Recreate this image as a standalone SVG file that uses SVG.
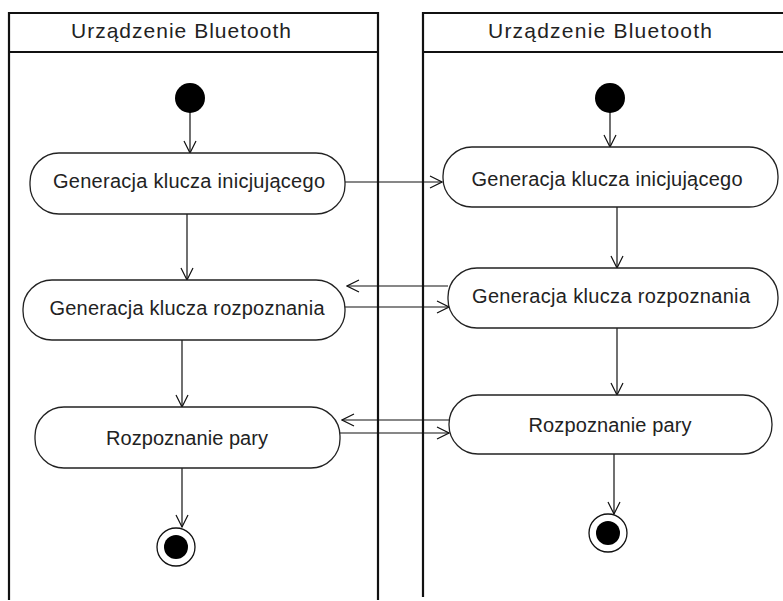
<svg xmlns="http://www.w3.org/2000/svg" width="783" height="601" viewBox="0 0 783 601">
<defs>
<style>
.lane{fill:none;stroke:#111;stroke-width:2.2}
.act{fill:#fff;stroke:#222;stroke-width:1.3}
.t{font-family:"Liberation Sans",Arial,sans-serif;font-size:20px;fill:#222;text-anchor:middle}
.h{font-size:21px}
.c{fill:none;stroke:#111;stroke-width:1.2;marker-end:url(#arr)}
</style>
<marker id="arr" markerUnits="userSpaceOnUse" markerWidth="14" markerHeight="14" viewBox="0 0 14 14" refX="13" refY="7" orient="auto">
<path d="M1,1 L13,7 L1,13" fill="none" stroke="#111" stroke-width="1.2"/>
</marker>
</defs>
<rect width="783" height="601" fill="#fff"/>
<g id="lane-left">
<path class="lane" d="M9,600 V13 H378 V600 M9,52 H378"/>
<text class="t h" x="181" y="38" textLength="220" lengthAdjust="spacing">Urządzenie Bluetooth</text>
</g>
<g id="lane-right">
<path class="lane" d="M423,597 V13 H783 M423,52 H783"/>
<text class="t h" x="600" y="38" textLength="224" lengthAdjust="spacing">Urządzenie Bluetooth</text>
</g>
<g id="connectors">
<line class="c" x1="190" y1="112" x2="190" y2="153"/>
<line class="c" x1="610" y1="112" x2="610" y2="147"/>
<line class="c" x1="345" y1="182" x2="442" y2="182"/>
<line class="c" x1="187" y1="214" x2="187" y2="280"/>
<line class="c" x1="617" y1="207" x2="617" y2="268"/>
<line class="c" x1="448" y1="286" x2="347" y2="286"/>
<line class="c" x1="345" y1="307" x2="449" y2="307"/>
<line class="c" x1="182" y1="340" x2="182" y2="407"/>
<line class="c" x1="617" y1="328" x2="617" y2="395"/>
<line class="c" x1="449" y1="420" x2="342" y2="420"/>
<line class="c" x1="340" y1="433" x2="449" y2="433"/>
<line class="c" x1="182" y1="468" x2="182" y2="527"/>
<line class="c" x1="614" y1="454" x2="614" y2="514"/>
</g>
<g id="start-left"><circle cx="190" cy="98" r="15" fill="#000"/></g>
<g id="start-right"><circle cx="610" cy="98" r="15" fill="#000"/></g>
<g id="act-l1">
<rect class="act" x="30" y="153" width="315" height="61" rx="29" ry="29"/>
<text class="t" x="189" y="188" textLength="272" lengthAdjust="spacing">Generacja klucza inicjującego</text>
</g>
<g id="act-r1">
<rect class="act" x="443" y="147" width="335" height="60" rx="29" ry="29"/>
<text class="t" x="607" y="186" textLength="271" lengthAdjust="spacing">Generacja klucza inicjującego</text>
</g>
<g id="act-l2">
<rect class="act" x="23" y="280" width="322" height="60" rx="29" ry="29"/>
<text class="t" x="187" y="315" textLength="275" lengthAdjust="spacing">Generacja klucza rozpoznania</text>
</g>
<g id="act-r2">
<rect class="act" x="448" y="268" width="330" height="60" rx="29" ry="29"/>
<text class="t" x="611" y="303" textLength="278" lengthAdjust="spacing">Generacja klucza rozpoznania</text>
</g>
<g id="act-l3">
<rect class="act" x="35" y="407" width="305" height="61" rx="29" ry="29"/>
<text class="t" x="187" y="445" textLength="162" lengthAdjust="spacing">Rozpoznanie pary</text>
</g>
<g id="act-r3">
<rect class="act" x="449" y="395" width="323" height="59" rx="29" ry="29"/>
<text class="t" x="610" y="432" textLength="163" lengthAdjust="spacing">Rozpoznanie pary</text>
</g>
<g id="end-left">
<circle cx="176" cy="547" r="19" fill="#fff" stroke="#111" stroke-width="1.3"/>
<circle cx="176" cy="547" r="12" fill="#000"/>
</g>
<g id="end-right">
<circle cx="608" cy="533" r="19" fill="#fff" stroke="#111" stroke-width="1.3"/>
<circle cx="608" cy="533" r="12" fill="#000"/>
</g>
</svg>
